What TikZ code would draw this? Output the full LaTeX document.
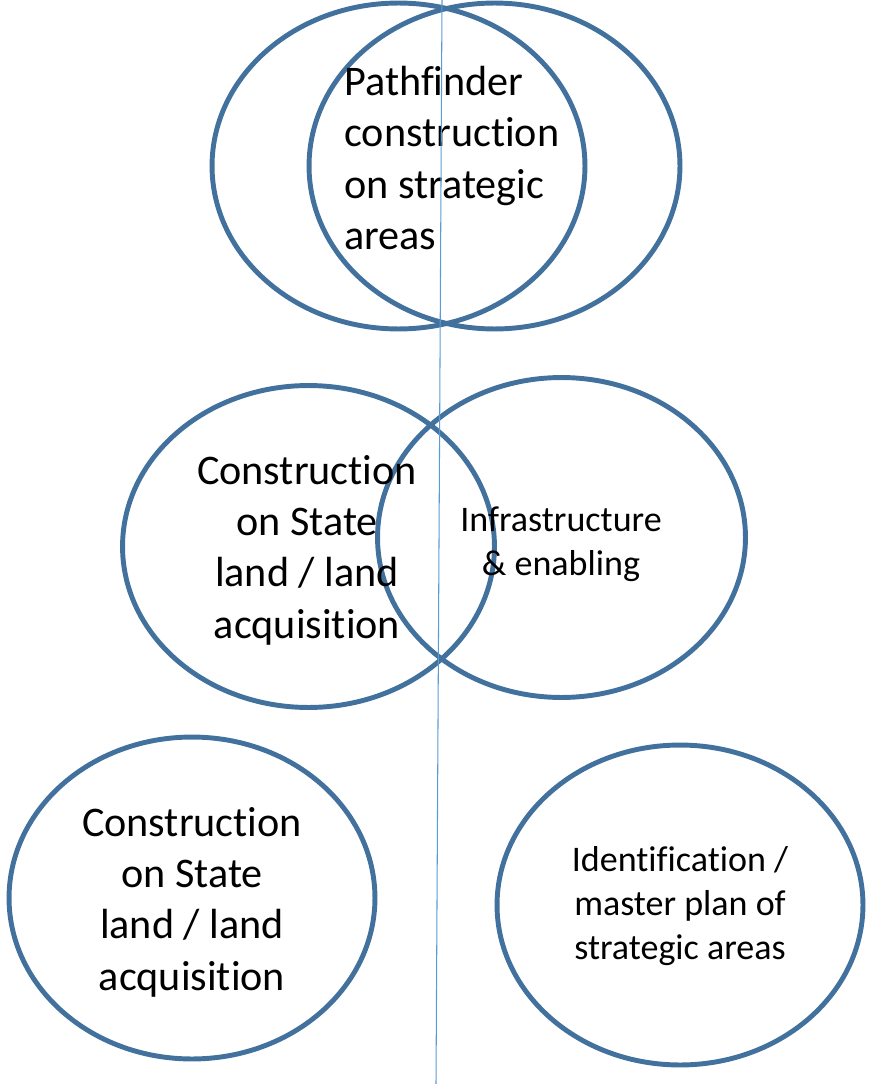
\documentclass[tikz,border=0pt]{standalone}
\usepackage{fontspec}
\setmainfont{Carlito}[Ligatures=NoCommon]
\usetikzlibrary{shapes.geometric}
\definecolor{ringblue}{RGB}{65,113,156}
\definecolor{axisblue}{RGB}{91,155,213}
\tikzset{
	ring/.style={draw=ringblue,line width=2.8pt,ellipse,inner sep=0pt},
	bigtext/.style={inner sep=0pt,align=center,font=\fontsize{24}{29.2}\selectfont},
	smalltext/.style={inner sep=0pt,align=center,font=\fontsize{20.5}{25}\selectfont}
}
\begin{document}
\begin{tikzpicture}[x=0.02cm,y=-0.02cm]
			\useasboundingbox (0,0) rectangle (873,1084);
			
			\node[ring,minimum width=7.46cm,minimum height=6.52cm] (topleft) at (398.5,166) {};
			\node[ring,minimum width=7.42cm,minimum height=6.52cm] (topright) at (494.5,166) {};
			\node[ring,minimum width=7.44cm,minimum height=6.44cm] (midleft) at (308.5,546.5) {};
			\node[ring,minimum width=7.36cm,minimum height=6.40cm] (midright) at (561.5,537.5) {};
			\node[ring,minimum width=7.32cm,minimum height=6.44cm] (lowleft) at (192,898) {};
			\node[ring,minimum width=7.32cm,minimum height=6.40cm] (lowright) at (680,905) {};
			
			\node[bigtext,align=left,anchor=west] (pathfinder) at (344,158) {Pathfinder\\construction\\on strategic\\areas};
			\node[bigtext] (stateland) at (307,550) {Construction\\on State\\land / land\\acquisition};
			\node[smalltext] (enabling) at (561,544) {Infrastructure\\\& enabling};
			\node[bigtext] (statelandtwo) at (192,902) {Construction\\on State\\land / land\\acquisition};
			\node[smalltext] (masterplan) at (680,906) {Identification /\\master plan of\\strategic areas};
			
			\coordinate (linetop) at (442,0);
			\coordinate (linebottom) at (436,1084);
			\draw[axisblue,line width=0.6pt] (linetop) -- (linebottom);
\end{tikzpicture}
\end{document}
